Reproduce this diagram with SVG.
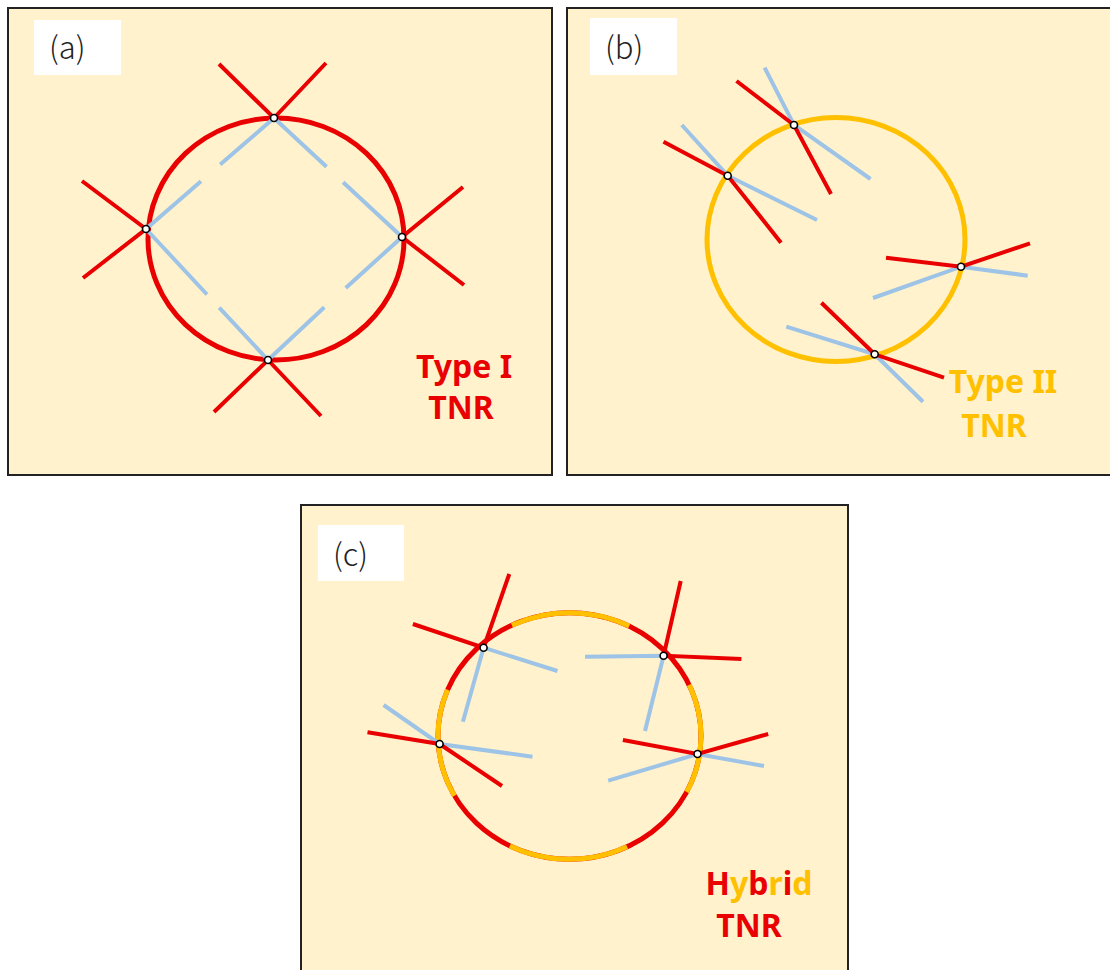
<svg xmlns="http://www.w3.org/2000/svg" width="1110" height="970" viewBox="0 0 1110 970">
<style>
.panel{fill:#FFF2CC;stroke:#222;stroke-width:2}
.lbl{fill:#fff}
.lt{font-family:"Noto Sans CJK JP","Noto Sans",sans-serif;font-size:31px;font-weight:300;fill:#222}
.red{stroke:#E90000;stroke-width:4;fill:none;stroke-linecap:butt}
.blue{stroke:#9DC3E6;stroke-width:4;fill:none}
.ringR{stroke:#E90000;stroke-width:5;fill:none}
.ringY{stroke:#FFC000;stroke-width:5;fill:none}
.dot{fill:#fff;stroke:#000;stroke-width:1.6}
.big{font-family:"Noto Sans","Liberation Sans",sans-serif;font-weight:bold;font-size:32px;text-anchor:middle}
</style>
<rect width="1110" height="970" fill="#fff"/>

<!-- Panel (a) -->
<g id="panel-a">
<rect class="panel" x="8" y="8" width="544" height="467"/>
<rect class="lbl" x="34" y="20" width="87" height="55"/>
<text class="lt" x="49" y="59">(a)</text>
<ellipse class="ringR" cx="276" cy="239" rx="128" ry="121"/>
<g id="a-connectors">
<path class="blue" d="M274,118 L220.2,164.6 M201,181.3 L146,229"/>
<path class="blue" d="M274,118 L326.5,166.8 M343.1,182.3 L402,237"/>
<path class="blue" d="M146,229 L207,294.5 M219.2,307.6 L268,360"/>
<path class="blue" d="M402,237 L345.7,288 M324.3,307.3 L268,360"/>
</g>
<g id="a-node-top"><path class="red" d="M219,64 L274,118 L326,63"/><circle class="dot" cx="274" cy="118" r="3.5"/></g>
<g id="a-node-left"><path class="red" d="M82,181 L146,229 L83,278"/><circle class="dot" cx="146" cy="229" r="3.5"/></g>
<g id="a-node-right"><path class="red" d="M463,187 L402,237 L464,285"/><circle class="dot" cx="402" cy="237" r="3.5"/></g>
<g id="a-node-bottom"><path class="red" d="M214,412 L268,360 L321,416"/><circle class="dot" cx="268" cy="360" r="3.5"/></g>
<text class="big" fill="#E90000"><tspan x="464" y="378">Type I</tspan><tspan x="461" y="419">TNR</tspan></text>
</g>

<!-- Panel (b) -->
<g id="panel-b">
<rect class="panel" x="567" y="8" width="560" height="467"/>
<rect class="lbl" x="590" y="18" width="87" height="57"/>
<text class="lt" x="605" y="59">(b)</text>
<ellipse class="ringY" cx="836" cy="239.5" rx="129" ry="122"/>
<g id="b-node-1"><path class="blue" d="M764.6,67.7 L794,125 L870.5,179"/><path class="red" d="M736.5,81 L794,125 L831,194"/><circle class="dot" cx="794" cy="125" r="3.5"/></g>
<g id="b-node-2"><path class="blue" d="M681.8,125 L727.7,175.7 L817,220"/><path class="red" d="M663.5,141.7 L727.7,175.7 L781,242.7"/><circle class="dot" cx="727.7" cy="175.7" r="3.5"/></g>
<g id="b-node-3"><path class="blue" d="M873,298 L961,266.7 L1027.7,275.7"/><path class="red" d="M886,257.7 L961,266.7 L1030,243.3"/><circle class="dot" cx="961" cy="266.7" r="3.5"/></g>
<g id="b-node-4"><path class="blue" d="M786.3,326.7 L874.7,354.3 L923,401.7"/><path class="red" d="M821.4,302.7 L874.7,354.3 L944,377.7"/><circle class="dot" cx="874.7" cy="354.3" r="3.5"/></g>
<text class="big" fill="#FFC000"><tspan x="1003" y="393">Type II</tspan><tspan x="994" y="437">TNR</tspan></text>
</g>

<!-- Panel (c) -->
<g id="panel-c">
<rect class="panel" x="301" y="505" width="547" height="480"/>
<rect class="lbl" x="318" y="525" width="86" height="56"/>
<text class="lt" x="333" y="566">(c)</text>
<ellipse class="ringR" cx="569.5" cy="736" rx="131.5" ry="123.3"/>
<path class="ringY" d="M511.9,625.2 A131.5,123.3 0 0 1 629.2,626.1"/>
<path class="ringY" d="M689.2,684.9 A131.5,123.3 0 0 1 686.7,792"/>
<path class="ringY" d="M627.1,846.8 A131.5,123.3 0 0 1 509.8,845.9"/>
<path class="ringY" d="M454.5,795.8 A131.5,123.3 0 0 1 447.6,689.8"/>
<g id="c-node-1"><path class="blue" d="M557.5,671 L483.6,647.7 L462.9,721.7"/><path class="red" d="M412.9,624 L483.6,647.7 L509.3,574"/><circle class="dot" cx="483.6" cy="647.7" r="3.5"/></g>
<g id="c-node-2"><path class="blue" d="M585,656.7 L663.6,655.7 L645,731"/><path class="red" d="M680.7,581 L663.6,655.7 L741.4,659"/><circle class="dot" cx="663.6" cy="655.7" r="3.5"/></g>
<g id="c-node-3"><path class="blue" d="M383.6,705 L439.6,744 L532.5,756.7"/><path class="red" d="M367.5,732.3 L439.6,744 L502,786"/><circle class="dot" cx="439.6" cy="744" r="3.5"/></g>
<g id="c-node-4"><path class="blue" d="M608.2,780.7 L697.5,754 L764,766"/><path class="red" d="M622.9,740 L697.5,754 L768.2,734"/><circle class="dot" cx="697.5" cy="754" r="3.5"/></g>
<text class="big" x="759" y="895"><tspan fill="#E90000">H</tspan><tspan fill="#FFC000">y</tspan><tspan fill="#E90000">b</tspan><tspan fill="#FFC000">r</tspan><tspan fill="#E90000">i</tspan><tspan fill="#FFC000">d</tspan></text>
<text class="big" fill="#E90000" x="749" y="937">TNR</text>
</g>
</svg>
